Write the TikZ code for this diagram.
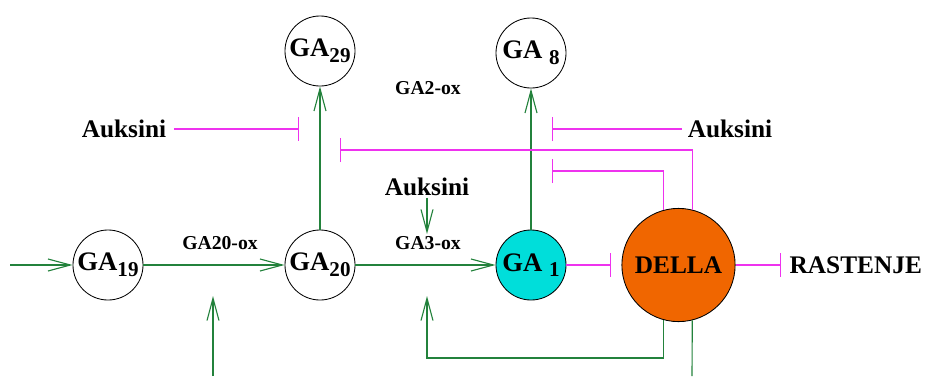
\documentclass[tikz,border=0pt]{standalone}
\usepackage{fontspec}
\setmainfont{Liberation Serif}
\usetikzlibrary{arrows.meta}
\definecolor{grn}{RGB}{35,130,60}
\definecolor{mag}{RGB}{238,50,238}
\definecolor{cyanfill}{RGB}{0,222,218}
\definecolor{orangefill}{RGB}{240,102,0}
\newcommand\gasub[1]{\raisebox{-0.45ex}{\fontsize{15}{15}\selectfont #1}}
\begin{document}
\begin{tikzpicture}[x=0.025cm,y=-0.025cm,
  every node/.style={font=\bfseries},
  ga/.style={circle,draw=black,line width=0.6pt,minimum size=1.75cm,inner sep=0pt,font=\fontsize{19}{19}\selectfont\bfseries},
  big/.style={font=\fontsize{18}{18}\selectfont\bfseries,inner sep=1pt},
  enz/.style={font=\fontsize{14}{14}\selectfont\bfseries,inner sep=1pt},
  act/.style={draw=grn,line width=0.8pt,-{Straight Barb[length=0.56cm,width=0.3cm]}},
  gline/.style={draw=grn,line width=0.8pt},
  inh/.style={draw=mag,line width=0.8pt,-{Bar[width=0.6cm]}},
  mline/.style={draw=mag,line width=0.8pt}]
\useasboundingbox (0,0) rectangle (927,376);
% nodes
\node[ga] (GA19) at (108,265) {GA\gasub{19}};
\node[ga] (GA20) at (320,265) {GA\gasub{20}};
\node[ga] (GA29) at (320,51) {GA\gasub{29}};
\node[ga] (GA8) at (531,53) {GA\ \gasub{8}};
\node[ga,fill=cyanfill] (GA1) at (531,265) {GA\ \gasub{1}};
\node[circle,draw=black,line width=0.6pt,fill=orangefill,minimum size=2.83cm,inner sep=0pt,big] (DELLA) at (678.5,265) {DELLA};
\node[big,anchor=west] (RAST) at (788,265) {RASTENJE};
\node[big] (AuxL) at (124,129) {Auksini};
\node[big] (AuxR) at (730,129) {Auksini};
\node[big] (AuxM) at (427,187) {Auksini};
\node[enz] (ox20) at (220,243) {GA20-ox};
\node[enz] (ox2) at (428,88) {GA2-ox};
\node[enz] (ox3) at (428,243) {GA3-ox};
% coordinates
\coordinate (inL) at (10,265);
\coordinate (bot1) at (213,376);
\coordinate (bot1t) at (213,296);
\coordinate (auxLt) at (299,129);
\coordinate (longt) at (340,150);
\coordinate (midt) at (552,171);
\coordinate (auxRt) at (552,129);
\coordinate (auxMt) at (427,234);
\coordinate (g1d) at (611,265);
\coordinate (drt) at (781,265);
\coordinate (loopc) at (427,358);
\coordinate (loopt) at (427,296);
\coordinate (bot2) at (692,376);
% green connectors
\draw[act] (inL) -- (GA19);
\draw[act] (GA19) -- (GA20);
\draw[act] (bot1) -- (bot1t);
\draw[act] (GA20) -- (GA29);
\draw[act] (GA20) -- (GA1);
\draw[act] (GA1) -- (GA8);
\draw[act] (AuxM.south) -- (auxMt);
\draw[act] (DELLA.-105) |- (loopc) -- (loopt);
\draw[gline] (DELLA.-76) -- (bot2);
% magenta connectors
\draw[inh] (AuxL.east) ++(6,0) -- (auxLt);
\draw[inh] (AuxR.west) ++(-4,0) -- (auxRt);
\draw[inh] (DELLA.76) |- (longt);
\draw[inh] (DELLA.105) |- (midt);
\draw[inh] (GA1) -- (g1d);
\draw[inh] (DELLA) -- (drt);
\end{tikzpicture}
\end{document}
